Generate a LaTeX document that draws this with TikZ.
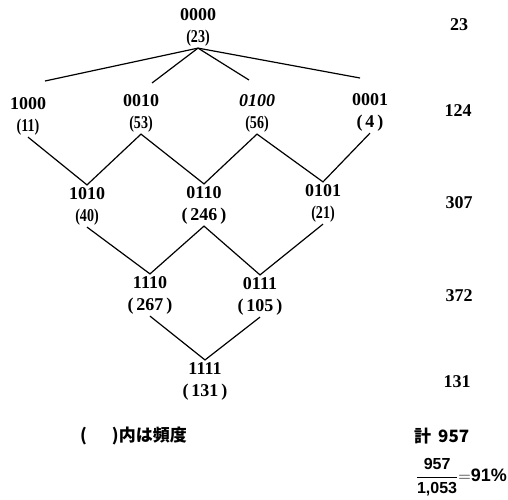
\documentclass[tikz,border=0pt]{standalone}
\usepackage{fontspec}
\setmainfont{Liberation Serif}
\setsansfont{Liberation Sans}
\newfontfamily\jpfont{Noto Sans CJK JP}
\usepackage{graphicx}

\newcommand{\narrowtxt}[1]{\scalebox{0.78}[1]{#1}}

\begin{document}
\begin{tikzpicture}[
      x = 1pt,
      y = -1pt,
      state/.style = {align=center, inner sep=2pt, font=\bfseries\fontsize{18}{22}\selectfont},
      total/.style = {inner sep=0pt, font=\bfseries\fontsize{18}{22}\selectfont},
      link/.style = {line width=1.2pt, line join=miter},
  ]

  \useasboundingbox (0,0) rectangle (508,499);

  % states
  \node[state] (s0000) at (198,27) {0000\\\narrowtxt{(23)}};

  \node[state] (s1000) at (28,116) {1000\\\narrowtxt{(11)}};
  \node[state] (s0010) at (141,113) {0010\\\narrowtxt{(53)}};
  \node[state] (s0100) at (257,113) {\textit{0100}\\\narrowtxt{(56)}};
  \node[state] (s0001) at (370,112) {0001\\(\,4\,)};

  \node[state] (s1010) at (87,206) {1010\\\narrowtxt{(40)}};
  \node[state] (s0110) at (204,205) {0110\\(\,246\,)};
  \node[state] (s0101) at (323,203) {0101\\\narrowtxt{(21)}};

  \node[state] (s1110) at (150,295) {1110\\(\,267\,)};
  \node[state] (s0111) at (260,296) {0111\\(\,105\,)};

  \node[state] (s1111) at (205,381) {1111\\(\,131\,)};

  % loose ends of the top fan
  \coordinate (t1000) at (45,81);
  \coordinate (t0010) at (152,83);
  \coordinate (t0100) at (249,80);
  \coordinate (t0001) at (360,78);

  \draw [link] (s0000.south) -- (t1000);
  \draw [link] (s0000.south) -- (t0010);
  \draw [link] (s0000.south) -- (t0100);
  \draw [link] (s0000.south) -- (t0001);

  \draw [link] (s1000.south) -- (s1010.north) -- (s0010.south) -- (s0110.north)
               -- (s0100.south) -- (s0101.north) -- (s0001.south);
  \draw [link] (s1010.south) -- (s1110.north) -- (s0110.south) -- (s0111.north)
               -- (s0101.south);
  \draw [link] (s1110.south) -- (s1111.north) -- (s0111.south);

  % totals per level
  \node[total] (n1) at (459,25) {23};
  \node[total] (n2) at (458,111) {124};
  \node[total] (n3) at (459,203) {307};
  \node[total] (n4) at (459,296) {372};
  \node[total] (n5) at (457,382) {131};

  \node[anchor=west, inner sep=0pt, font=\jpfont\bfseries\fontsize{17}{21}\selectfont] (note) at (80,436) {(\hspace{25pt})内は頻度};
  \node[anchor=west, inner sep=0pt, font=\jpfont\bfseries\fontsize{17}{21}\selectfont] (sum) at (414,436) {計\hspace{7pt}957};
  \node[anchor=east, inner sep=0pt, font=\sffamily\bfseries\fontsize{16}{19}\selectfont] (ratio) at (507,477)
       {$\displaystyle\frac{\mbox{957}}{\mbox{1,053}}{=}$\mbox{\fontsize{18}{20}\selectfont91\%}};

\end{tikzpicture}
\end{document}
